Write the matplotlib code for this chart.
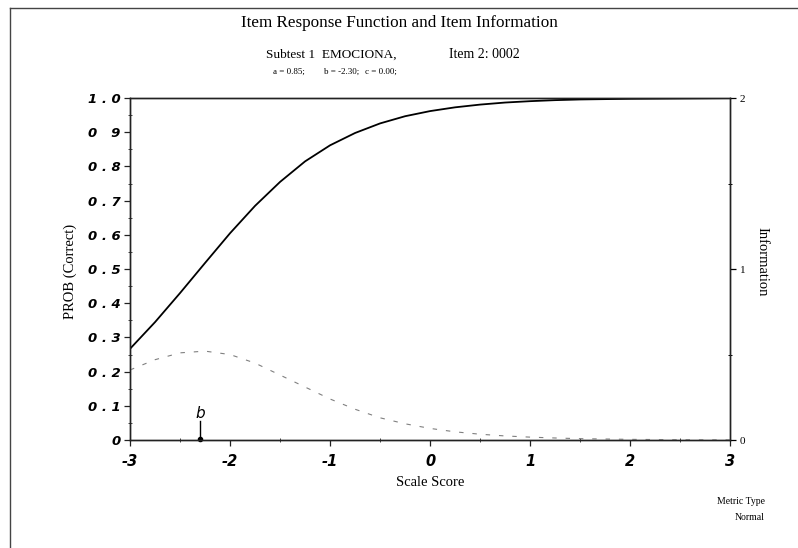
import matplotlib
matplotlib.use("Agg")
import matplotlib.pyplot as plt
from matplotlib.lines import Line2D
from matplotlib.ticker import MultipleLocator

# Item parameters
item_a = 0.85
item_b = -2.30
item_c = 0.00

# Scale scores and the traced item response / information values
theta = [-3.0, -2.75, -2.5, -2.25, -2.0, -1.75, -1.5, -1.25, -1.0, -0.75,
         -0.5, -0.25, 0.0, 0.25, 0.5, 0.75, 1.0, 1.25, 1.5, 1.75,
         2.0, 2.5, 3.0]
prob_correct = [0.267, 0.345, 0.430, 0.518, 0.605, 0.685, 0.755, 0.815, 0.862, 0.898,
                0.926, 0.947, 0.962, 0.973, 0.981, 0.987, 0.991, 0.994, 0.996, 0.997,
                0.998, 0.999, 1.000]
information = [0.41, 0.47, 0.51, 0.52, 0.50, 0.45, 0.38, 0.31, 0.24, 0.18,
               0.13, 0.095, 0.068, 0.048, 0.034, 0.024, 0.017, 0.012, 0.008, 0.006,
               0.004, 0.002, 0.001]

left_ticks = [0.0, 0.1, 0.2, 0.3, 0.4, 0.5, 0.6, 0.7, 0.8, 0.9, 1.0]
left_labels = ["0", "0 . 1", "0 . 2", "0 . 3", "0 . 4", "0 . 5",
               "0 . 6", "0 . 7", "0 . 8", "0   9", "1 . 0"]
x_ticks = [-3, -2, -1, 0, 1, 2, 3]
x_labels = ["-3", "-2", "-1", "0", "1", "2", "3"]
right_ticks = [0, 1, 2]
right_labels = ["0", "1", "2"]

serif = "Liberation Serif"
tick_font = dict(family="DejaVu Sans", style="oblique", weight="bold", size=9.5)

fig = plt.figure(figsize=(7.98, 5.48), dpi=100)
ax = fig.add_axes([0.163, 0.197, 0.752, 0.624])

ax.plot(theta, prob_correct, color="black", lw=1.3, zorder=3)
ax.set_xlim(-3, 3)
ax.set_ylim(0, 1.0)

ax.set_xticks(x_ticks)
ax.set_xticklabels(x_labels, fontdict=dict(tick_font, size=10.5))
ax.set_yticks(left_ticks)
ax.set_yticklabels(left_labels, fontdict=tick_font)
ax.xaxis.set_minor_locator(MultipleLocator(0.5))
ax.yaxis.set_minor_locator(MultipleLocator(0.05))
ax.tick_params(axis="y", which="major", direction="out", length=4, width=0.9, pad=3, color="#222")
ax.tick_params(axis="x", which="major", direction="out", length=4, width=0.9, pad=6, color="#222")
ax.tick_params(axis="both", which="minor", direction="inout", length=3, width=0.7, color="#444")
for s in ax.spines.values():
    s.set_linewidth(1.0)
    s.set_color("#222")

# Location marker for the b parameter
ax.plot([item_b, item_b], [0, 0.055], color="black", lw=1.0, zorder=4)
ax.plot([item_b], [0.003], marker="o", ms=3, color="black", zorder=4, clip_on=False)
ax.text(item_b, 0.056, "b", ha="center", va="bottom", style="italic",
        size=11, family="DejaVu Sans")

# Information on the secondary axis
ax2 = ax.twinx()
ax2.plot(theta, information, color="#808080", lw=0.8, linestyle=(0, (4, 8)), zorder=2)
ax2.set_ylim(0, 2)
ax2.set_yticks(right_ticks)
ax2.set_yticklabels(right_labels, family=serif, size=8)
ax2.yaxis.set_minor_locator(MultipleLocator(0.5))
ax2.tick_params(axis="y", which="major", direction="out", length=4, width=0.9, pad=3)
ax2.tick_params(axis="y", which="minor", direction="inout", length=3, width=0.7)
for s in ax2.spines.values():
    s.set_linewidth(1.0)
    s.set_color("#222")

# Axis titles
fig.text(70 / 798, 1 - 271 / 548, "PROB (Correct)", rotation=90, ha="center", va="center",
         family=serif, size=10.5)
fig.text(762 / 798, 1 - 262 / 548, "Information", rotation=270, ha="center", va="center",
         family=serif, size=10.5)
fig.text(430 / 798, 1 - 482 / 548, "Scale Score", ha="center", va="center",
         family=serif, size=10.5)

# Headings
fig.text(0.5, 0.958, "Item Response Function and Item Information",
         ha="center", va="center", family=serif, size=12.3)
fig.text(0.415, 0.901, "Subtest 1  EMOCIONA,", ha="center", va="center",
         family=serif, size=9.5)
fig.text(0.607, 0.901, "Item 2: 0002", ha="center", va="center",
         family=serif, size=10)
fig.text(0.362, 0.869, "a = 0.85;", ha="center", va="center", family=serif, size=6.5)
fig.text(0.428, 0.869, "b = -2.30;", ha="center", va="center", family=serif, size=6.5)
fig.text(0.477, 0.869, "c = 0.00;", ha="center", va="center", family=serif, size=6.5)

# Footer
fig.text(765 / 798, 1 - 502 / 548, "Metric Type", ha="right", va="center", family=serif, size=7)
fig.text(765 / 798, 1 - 518 / 548, "Normal", ha="right", va="center", family=serif, size=7)

# Page border
fig.add_artist(Line2D([0.0125, 1.0], [0.985, 0.985], transform=fig.transFigure,
                      color="#444", lw=1.0))
fig.add_artist(Line2D([0.0125, 0.0125], [0.0, 0.985], transform=fig.transFigure,
                      color="#444", lw=1.0))

fig.savefig("out.png", dpi=100, facecolor="white")
